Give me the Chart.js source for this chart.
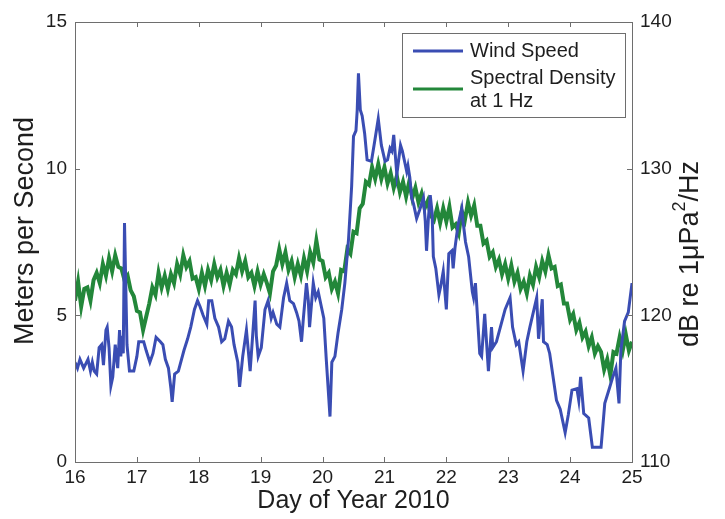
<!DOCTYPE html>
<html>
<head>
<meta charset="utf-8">
<title>Wind speed and 1 Hz spectral density</title>
<script src="https://cdn.jsdelivr.net/npm/chart.js@4.4.1/dist/chart.umd.min.js"></script>
<style>
  html, body { margin: 0; padding: 0; background: #fff; }
  #wrap { width: 725px; height: 519px; }
</style>
</head>
<body>
<div id="wrap"><canvas id="chart" width="725" height="519"></canvas></div>
<script>
// Wind speed (m/s), irregularly sampled, by day of year
const windDays = [
  16.00, 16.04, 16.08, 16.14, 16.21, 16.25, 16.28, 16.31, 16.35, 16.39,
  16.43, 16.46, 16.50, 16.52, 16.55, 16.58, 16.61, 16.65, 16.67, 16.69,
  16.72, 16.74, 16.76, 16.78, 16.80, 16.84, 16.88, 16.95, 17.00, 17.03,
  17.11, 17.15, 17.21, 17.26, 17.31, 17.38, 17.42, 17.46, 17.51, 17.55,
  17.57, 17.61, 17.67, 17.76, 17.82, 17.87, 17.93, 17.98, 18.02, 18.07,
  18.13, 18.16, 18.21, 18.26, 18.32, 18.37, 18.42, 18.48, 18.53, 18.57,
  18.63, 18.66, 18.71, 18.77, 18.83, 18.87, 18.91, 18.93, 18.96, 19.01,
  19.07, 19.12, 19.17, 19.20, 19.26, 19.31, 19.37, 19.42, 19.47, 19.53,
  19.58, 19.62, 19.66, 19.69, 19.74, 19.77, 19.79, 19.85, 19.89, 19.93,
  19.98, 20.02, 20.06, 20.12, 20.15, 20.20, 20.25, 20.31, 20.36, 20.42,
  20.47, 20.50, 20.54, 20.56, 20.58, 20.61, 20.64, 20.68, 20.72, 20.79,
  20.84, 20.90, 20.95, 21.01, 21.05, 21.09, 21.12, 21.15, 21.20, 21.26,
  21.29, 21.33, 21.36, 21.38, 21.41, 21.44, 21.47, 21.52, 21.57, 21.63,
  21.66, 21.68, 21.71, 21.74, 21.77, 21.79, 21.83, 21.88, 21.91, 21.95,
  22.00, 22.04, 22.09, 22.11, 22.14, 22.19, 22.25, 22.27, 22.31, 22.36,
  22.42, 22.44, 22.47, 22.54, 22.57, 22.62, 22.68, 22.73, 22.75, 22.81,
  22.95, 23.03, 23.07, 23.13, 23.17, 23.24, 23.30, 23.35, 23.46, 23.49,
  23.55, 23.57, 23.63, 23.67, 23.78, 23.84, 23.92, 23.97, 24.03, 24.11,
  24.14, 24.17, 24.22, 24.25, 24.30, 24.36, 24.50, 24.56, 24.64, 24.69,
  24.74, 24.79, 24.82, 24.88, 24.94, 25.00
];
const windSpeed = [
  3.4, 3.2, 3.5, 3.2, 3.5, 3.1, 3.4, 3.1, 3.0, 3.9,
  4.0, 3.3, 4.5, 4.6, 3.9, 2.6, 2.9, 4.0, 3.6, 3.2,
  4.5, 3.6, 4.3, 3.7, 8.15, 4.0, 3.1, 3.1, 3.6, 4.1,
  4.1, 3.8, 3.4, 3.7, 4.25, 4.1, 4.0, 3.5, 3.2, 2.5,
  2.05, 3.0, 3.1, 3.8, 4.2, 4.6, 5.2, 5.5, 5.3, 5.0,
  4.7, 5.5, 5.5, 4.9, 4.6, 4.1, 4.2, 4.8, 4.6, 4.0,
  3.4, 2.56, 3.6, 4.5, 3.1, 4.3, 5.5, 4.3, 3.6, 3.9,
  5.2, 5.5, 4.9, 5.1, 4.7, 4.6, 5.6, 6.1, 5.5, 5.4,
  5.1, 4.8, 4.1, 4.9, 6.1, 5.5, 4.6, 6.1, 5.6, 5.8,
  5.3, 4.9, 3.5, 1.55, 3.4, 3.6, 4.4, 5.2, 6.1, 7.6,
  9.4, 11.1, 11.3, 12.0, 13.25, 12.0, 11.8, 11.2, 10.3, 10.25,
  10.9, 11.7, 10.8, 10.25, 10.3, 10.7, 10.6, 11.15, 9.8, 10.8,
  10.6, 10.2, 9.9, 10.1, 9.7, 9.0, 8.8, 8.3, 8.6, 9.0,
  8.2, 7.2, 8.3, 9.1, 8.5, 7.0, 6.6, 5.7, 6.0, 6.5,
  5.2, 7.1, 7.2, 6.6, 7.3, 8.1, 8.65, 8.2, 7.5, 7.0,
  5.8, 5.6, 6.1, 3.7, 3.6, 5.05, 3.1, 4.6, 3.9, 4.1,
  5.2, 5.6, 4.6, 4.0, 4.1, 3.1, 4.1, 4.6, 5.6, 4.2,
  5.55, 4.1, 4.0, 3.7, 2.1, 1.8, 1.0, 1.6, 2.45, 2.5,
  2.1, 2.9, 1.65, 1.6, 1.5, 0.5, 0.5, 2.0, 2.55, 2.9,
  3.2, 2.0, 3.8, 4.8, 5.1, 6.1
];

// Spectral density at 1 Hz (dB re 1 uPa^2/Hz), regular samples
const densityStart = 16;
const densityStep = 0.05;
const spectralDensity = [
  121.0, 122.3, 120.6, 121.8, 121.9, 121.0, 122.4, 122.9, 122.2, 123.5,
  122.7, 123.9, 123.0, 124.1, 123.3, 123.2, 122.4, 122.7, 121.7, 121.3,
  120.3, 120.2, 119.0, 119.9, 120.8, 121.9, 121.4, 122.9, 121.9, 122.7,
  121.8, 122.8, 122.2, 123.5, 122.8, 124.1, 123.3, 123.7, 122.5, 122.6,
  121.8, 122.9, 122.0, 123.1, 122.4, 123.5, 122.6, 123.1, 122.0, 122.9,
  122.1, 123.1, 122.8, 123.9, 123.0, 123.7, 122.6, 122.9, 122.0, 123.0,
  122.1, 122.8, 122.2, 121.5, 123.0, 123.4, 124.5, 123.5, 124.3, 123.1,
  123.7, 122.6, 123.5, 122.7, 123.9, 123.0, 124.3, 123.6, 125.1, 123.8,
  123.7, 122.6, 122.9, 121.8, 122.3, 121.5, 123.1, 123.0, 124.5, 124.2,
  125.7, 125.6, 127.3, 127.6, 129.1, 128.9, 130.1, 129.3, 130.3, 129.3,
  130.1, 129.0, 129.7, 128.7, 129.5, 128.4, 129.1, 128.1, 129.1, 128.0,
  128.7, 127.7, 128.3, 127.3, 127.8, 126.8, 126.5, 127.3, 126.3, 127.3,
  126.4, 127.4, 126.0, 126.2, 125.6, 127.1, 126.5, 127.7, 126.8, 127.5,
  126.1, 126.1, 124.9, 125.1, 124.0, 124.3, 123.3, 123.8, 122.8, 123.5,
  122.5, 123.4, 122.3, 122.9, 121.8, 122.3, 121.5, 122.7, 122.1, 123.3,
  122.6, 123.7, 123.0, 124.1, 123.2, 123.3, 122.0, 122.1, 120.8, 120.8,
  119.7, 120.1, 119.0, 119.5, 118.5, 118.9, 117.9, 118.5, 117.4, 117.9,
  117.5, 116.3, 117.0, 115.9, 117.5, 117.4, 118.5, 117.6, 118.7, 117.6,
  118.2
];

const BLUE = '#3a4db3';
const GREEN = '#23873a';
const AXIS = '#6e6e6e';
const TEXT = '#1e1e1e';
const FONT = '"Liberation Sans", Arial, Helvetica, sans-serif';

const windPoints = windDays.map((d, i) => ({ x: d, y: windSpeed[i] }));
const densityPoints = spectralDensity.map((v, i) => ({ x: densityStart + i * densityStep, y: v }));

// MATLAB-style frame: box round the plot with ticks pointing inward
const frame = {
  id: 'frame',
  afterDatasetsDraw(chart) {
    const { ctx, chartArea: a, scales } = chart;
    const len = 5;
    ctx.save();
    ctx.strokeStyle = AXIS;
    ctx.lineWidth = 1;
    ctx.strokeRect(a.left + 0.5, a.top + 0.5, a.right - a.left, a.bottom - a.top);
    ctx.beginPath();
    scales.x.ticks.forEach(t => {
      const px = Math.round(scales.x.getPixelForValue(t.value)) + 0.5;
      ctx.moveTo(px, a.bottom); ctx.lineTo(px, a.bottom - len);
      ctx.moveTo(px, a.top); ctx.lineTo(px, a.top + len);
    });
    scales.y.ticks.forEach(t => {
      const py = Math.round(scales.y.getPixelForValue(t.value)) + 0.5;
      ctx.moveTo(a.left, py); ctx.lineTo(a.left + len, py);
    });
    scales.y2.ticks.forEach(t => {
      const py = Math.round(scales.y2.getPixelForValue(t.value)) + 0.5;
      ctx.moveTo(a.right, py); ctx.lineTo(a.right - len, py);
    });
    ctx.stroke();
    ctx.restore();
  }
};

// legend box in the upper right of the plot, second entry on two lines
const legendBox = {
  id: 'legendBox',
  afterDraw(chart) {
    const { ctx } = chart;
    const x = 402, y = 33, w = 223, h = 84;
    ctx.save();
    ctx.fillStyle = '#fff';
    ctx.fillRect(x, y, w, h);
    ctx.strokeStyle = AXIS;
    ctx.lineWidth = 1;
    ctx.strokeRect(x + 0.5, y + 0.5, w, h);
    ctx.lineWidth = 3;
    ctx.strokeStyle = BLUE;
    ctx.beginPath(); ctx.moveTo(413, 51); ctx.lineTo(463, 51); ctx.stroke();
    ctx.strokeStyle = GREEN;
    ctx.beginPath(); ctx.moveTo(413, 89); ctx.lineTo(463, 89); ctx.stroke();
    ctx.fillStyle = TEXT;
    ctx.font = '20px ' + FONT;
    ctx.textBaseline = 'middle';
    ctx.textAlign = 'left';
    ctx.fillText('Wind Speed', 470, 51);
    ctx.fillText('Spectral Density', 470, 78);
    ctx.fillText('at 1 Hz', 470, 101);
    ctx.restore();
  }
};

// vertical axis titles, both reading bottom to top
const sideTitles = {
  id: 'sideTitles',
  afterDraw(chart) {
    const { ctx } = chart;
    ctx.save();
    ctx.fillStyle = TEXT;
    ctx.textBaseline = 'middle';

    ctx.translate(26, 231);
    ctx.rotate(-Math.PI / 2);
    ctx.font = '27px ' + FONT;
    ctx.textAlign = 'center';
    ctx.fillText('Meters per Second', 0, 0);
    ctx.setTransform(1, 0, 0, 1, 0, 0);

    const main = '27px ' + FONT, sup = '18px ' + FONT;
    const a = 'dB re 1\u03bcPa', b = '2', c = '/Hz';
    ctx.font = main; const wa = ctx.measureText(a).width, wc = ctx.measureText(c).width;
    ctx.font = sup; const wb = ctx.measureText(b).width;
    const total = wa + wb + wc;
    ctx.translate(691, 254);
    ctx.rotate(-Math.PI / 2);
    ctx.textAlign = 'left';
    let cx = -total / 2;
    ctx.font = main; ctx.fillText(a, cx, 0); cx += wa;
    ctx.font = sup; ctx.fillText(b, cx, -11); cx += wb;
    ctx.font = main; ctx.fillText(c, cx, 0);
    ctx.restore();
  }
};

new Chart(document.getElementById('chart'), {
  type: 'line',
  data: {
    datasets: [
      {
        label: 'Wind Speed',
        data: windPoints,
        yAxisID: 'y',
        borderColor: BLUE,
        borderWidth: 3,
        pointRadius: 0,
        tension: 0
      },
      {
        label: 'Spectral Density at 1 Hz',
        data: densityPoints,
        yAxisID: 'y2',
        borderColor: GREEN,
        borderWidth: 4,
        pointRadius: 0,
        tension: 0
      }
    ]
  },
  options: {
    responsive: false,
    animation: false,
    devicePixelRatio: 1,
    layout: { padding: { top: 22, left: 0, right: 0, bottom: 0 } },
    plugins: {
      legend: { display: false },
      tooltip: { enabled: false }
    },
    scales: {
      x: {
        type: 'linear',
        min: 16,
        max: 25,
        afterFit(s) { s.height = 57; },
        grid: { display: false, drawTicks: false },
        border: { display: false },
        ticks: { stepSize: 1, padding: 4, color: TEXT, font: { size: 19, family: FONT } },
        title: {
          display: true,
          text: 'Day of Year 2010',
          color: TEXT,
          font: { size: 25, family: FONT },
          padding: { top: 0, bottom: 3 }
        }
      },
      y: {
        position: 'left',
        min: 0,
        max: 15,
        afterFit(s) { s.width = 75; },
        grid: { display: false, drawTicks: false },
        border: { display: false },
        ticks: { stepSize: 5, padding: 8, color: TEXT, font: { size: 19, family: FONT } }
      },
      y2: {
        position: 'right',
        min: 110,
        max: 140,
        afterFit(s) { s.width = 93; },
        grid: { display: false, drawTicks: false },
        border: { display: false },
        ticks: { stepSize: 10, padding: 8, color: TEXT, font: { size: 19, family: FONT } }
      }
    }
  },
  plugins: [frame, legendBox, sideTitles]
});
</script>
</body>
</html>
